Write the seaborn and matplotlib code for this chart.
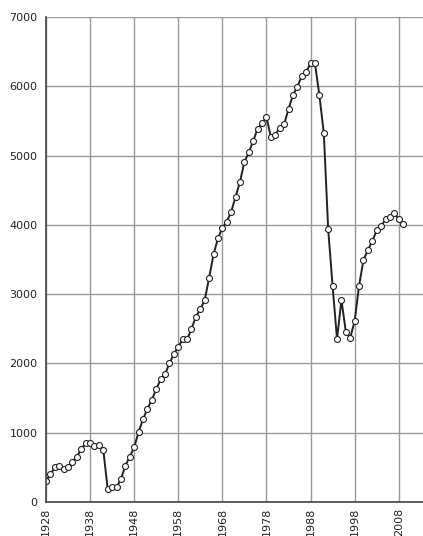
import numpy as np
import pandas as pd
import matplotlib
matplotlib.use("Agg")
import matplotlib.pyplot as plt
import seaborn as sns

# yearly values
years = list(range(1928, 2010))
values = [
    300, 400, 500, 520, 480, 500, 580, 654, 765, 847,
    847, 808, 820, 750, 183, 221, 212, 332, 524, 654,
    789, 1010, 1193, 1347, 1472, 1630, 1770, 1847, 2000, 2136,
    2241, 2347, 2347, 2501, 2674, 2780, 2915, 3237, 3574, 3805,
    3958, 4045, 4189, 4405, 4622, 4910, 5046, 5214, 5387, 5464,
    5560, 5263, 5300, 5401, 5450, 5671, 5873, 5993, 6147, 6205,
    6330, 6330, 5869, 5329, 3935, 3117, 2352, 2915, 2458, 2371,
    2612, 3122, 3492, 3636, 3766, 3920, 3983, 4079, 4108, 4166,
    4079, 4012,
]
x_ticks = list(range(1928, 2009, 10))
y_ticks = list(range(0, 7001, 1000))

df = pd.DataFrame({"year": years, "value": values})

sns.set_style("white")
plt.rcParams["font.family"] = ["DejaVu Sans"]

fig = plt.figure(figsize=(4.23, 5.36), dpi=100)
ax = fig.add_axes([0.1087, 0.0634, 0.8913, 0.9049])

sns.lineplot(data=df, x="year", y="value", ax=ax, color="#222222",
             linewidth=1.4, marker="o", markersize=4.3,
             markerfacecolor="white", markeredgecolor="#222222",
             markeredgewidth=0.8)

ax.set_xlim(1928, 2013.5)
ax.set_ylim(0, 7000)
ax.set_xticks(x_ticks)
ax.set_xticklabels([str(t) for t in x_ticks], rotation=90)
ax.set_yticks(y_ticks)
ax.set_xlabel("")
ax.set_ylabel("")

ax.grid(True, color="#999999", linewidth=1.0)
ax.set_axisbelow(True)
for side in ["top", "right"]:
    ax.spines[side].set_visible(False)
for side in ["left", "bottom"]:
    ax.spines[side].set_color("#444444")
    ax.spines[side].set_linewidth(1.2)

ax.tick_params(axis="both", direction="out", width=1,
               color="#444444", labelsize=8, labelcolor="#222222")
ax.tick_params(axis="y", length=4, pad=2)
ax.tick_params(axis="x", length=3, pad=1)

fig.savefig("out.png", dpi=100)
